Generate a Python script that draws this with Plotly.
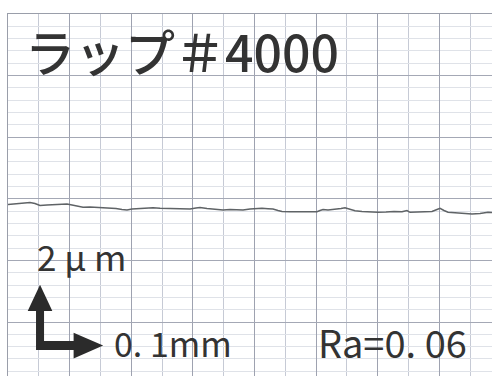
import plotly.graph_objects as go

# Profile trace (x in mm, height in µm)
profile_x_mm = [0.000, 0.0097, 0.0195, 0.0292, 0.0357, 0.0438, 0.0519, 0.0633, 0.0763, 0.0877,
                0.0958, 0.1039, 0.1136, 0.1218, 0.1331, 0.1445, 0.1558, 0.1656, 0.1753, 0.1851,
                0.1932, 0.2013, 0.2110, 0.2224, 0.2354, 0.2468, 0.2597, 0.2711, 0.2825, 0.2955,
                0.3052, 0.3117, 0.3231, 0.3360, 0.3490, 0.3604, 0.3718, 0.3815, 0.3929, 0.4026,
                0.4123, 0.4221, 0.4302, 0.4383, 0.4448, 0.4578, 0.4708, 0.4821, 0.4935, 0.5016,
                0.5065, 0.5114, 0.5195, 0.5308, 0.5406, 0.5471, 0.5552, 0.5633, 0.5747, 0.5877,
                0.6006, 0.6136, 0.6266, 0.6396, 0.6477, 0.6526, 0.6656, 0.6786, 0.6883, 0.6964,
                0.7013, 0.7078, 0.7143, 0.7256, 0.7370, 0.7532, 0.7662, 0.7792, 0.7857]
profile_y_um = [5.815, 5.831, 5.831, 5.864, 5.880, 5.847, 5.782, 5.799, 5.815, 5.831,
                5.831, 5.799, 5.750, 5.724, 5.734, 5.718, 5.724, 5.711, 5.685, 5.653,
                5.636, 5.669, 5.685, 5.701, 5.711, 5.692, 5.685, 5.701, 5.679, 5.669,
                5.701, 5.718, 5.685, 5.653, 5.636, 5.653, 5.636, 5.636, 5.669, 5.685,
                5.692, 5.679, 5.669, 5.620, 5.588, 5.581, 5.588, 5.578, 5.588, 5.581,
                5.620, 5.653, 5.636, 5.653, 5.685, 5.711, 5.669, 5.614, 5.588, 5.571,
                5.562, 5.571, 5.588, 5.578, 5.620, 5.562, 5.571, 5.578, 5.588, 5.653,
                5.692, 5.620, 5.562, 5.545, 5.529, 5.506, 5.523, 5.562, 5.555]

# Labels
title_text = "ラップ＃4000"
v_scale_label = "2 μ m"
h_scale_label = "0. 1mm"
ra_label = "Ra=0. 06"

# Scale bar values
scale_x_mm = 0.1
scale_y_um = 2.0

fig = go.Figure()
fig.add_trace(go.Scatter(x=profile_x_mm, y=profile_y_um, mode="lines",
                         line=dict(color="#5f6366", width=1.5), hoverinfo="skip"))

# L-shaped scale arrow built from scale values
ox, oy = 0.0455, 1.09          # outer corner
tx, ty = 0.013, 0.29           # shaft thickness (mm, µm)
hw_x, hh_y = 0.020, 0.85       # vertical head half-width / head length
hh_x, hw_y = 0.048, 0.42       # horizontal head length / head half-height
vx_tip = ox + tx / 2
vy_tip = oy + scale_y_um * 1.06
hx_tip = ox + scale_x_mm * 1.09
hy_mid = oy + ty / 2
pts = [
    (ox, oy),
    (ox, vy_tip - hh_y),
    (vx_tip - hw_x, vy_tip - hh_y),
    (vx_tip, vy_tip),
    (vx_tip + hw_x, vy_tip - hh_y),
    (ox + tx, vy_tip - hh_y),
    (ox + tx, oy + ty),
    (hx_tip - hh_x, oy + ty),
    (hx_tip - hh_x, hy_mid + hw_y),
    (hx_tip, hy_mid),
    (hx_tip - hh_x, hy_mid - hw_y),
    (hx_tip - hh_x, oy),
]
path = "M " + " L ".join(f"{x},{y}" for x, y in pts) + " Z"
fig.add_shape(type="path", path=path, xref="x", yref="y",
              fillcolor="#2b2b2b", line=dict(width=0))

font_cjk = "Noto Sans CJK JP"
fig.add_annotation(text=title_text, xref="paper", yref="paper", x=0.032, y=0.90,
                   xanchor="left", yanchor="middle", showarrow=False,
                   font=dict(family=font_cjk, size=50, color="#333333", weight=500))
fig.add_annotation(text=v_scale_label, xref="paper", yref="paper", x=0.055, y=0.333,
                   xanchor="left", yanchor="middle", showarrow=False,
                   font=dict(family=font_cjk, size=35, color="#333333"))
fig.add_annotation(text=h_scale_label, xref="paper", yref="paper", x=0.214, y=0.093,
                   xanchor="left", yanchor="middle", showarrow=False,
                   font=dict(family=font_cjk, size=34, color="#333333"))
fig.add_annotation(text=ra_label, xref="paper", yref="paper", x=0.636, y=0.094,
                   xanchor="left", yanchor="middle", showarrow=False,
                   font=dict(family=font_cjk, size=38, color="#333333"))

fig.update_xaxes(range=[0, 0.7857], dtick=0.1, tick0=0, showgrid=True,
                 gridcolor="#9ea2b0", gridwidth=1,
                 minor=dict(dtick=0.05, tick0=0, showgrid=True, gridcolor="#c6cad5", gridwidth=1),
                 showticklabels=False, ticks="", zeroline=False,
                 showline=True, linecolor="#9a9eaa", linewidth=1, side="top", fixedrange=True)
fig.update_yaxes(range=[12 - 362 / 30.8, 12], dtick=2, tick0=0, showgrid=True,
                 gridcolor="#a4a8b5", gridwidth=1,
                 minor=dict(dtick=0.4, tick0=0, showgrid=True, gridcolor="#dfe2e8", gridwidth=1),
                 showticklabels=False, ticks="", zeroline=False,
                 showline=True, linecolor="#9a9eaa", linewidth=1, fixedrange=True)
fig.update_layout(width=492, height=376, margin=dict(l=8, r=0, t=14, b=0),
                  paper_bgcolor="white", plot_bgcolor="white", showlegend=False)

fig.write_html("out.html")
